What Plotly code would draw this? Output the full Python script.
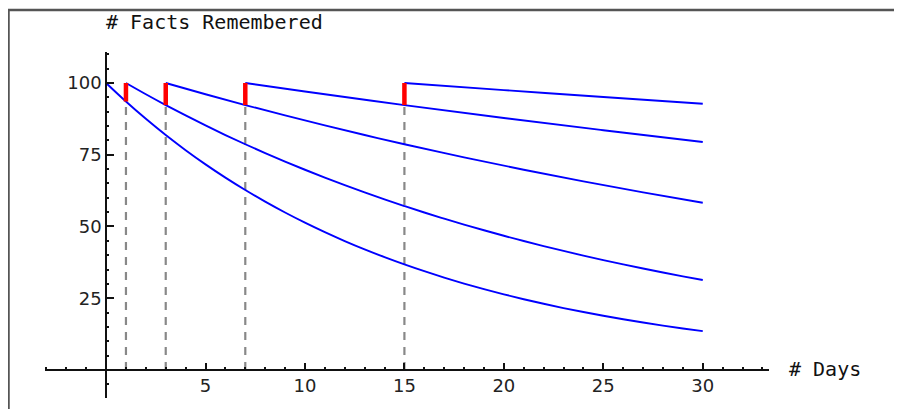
import plotly.graph_objects as go

# ---- data ----
review_days = [1, 3, 7, 15]

curve1_days = list(range(0, 31))
curve1_vals = [100, 93.55, 87.52, 81.87, 76.59, 71.65, 67.03, 62.71, 58.66, 54.88,
               51.34, 48.03, 44.93, 42.03, 39.32, 36.79, 34.42, 32.19, 30.12, 28.18,
               26.36, 24.66, 23.07, 21.58, 20.19, 18.89, 17.67, 16.53, 15.46, 14.47, 13.53]

curve2_days = list(range(1, 31))
curve2_vals = [100, 96.08, 92.31, 88.69, 85.21, 81.87, 78.66, 75.58, 72.61, 69.77,
               67.03, 64.40, 61.88, 59.45, 57.12, 54.88, 52.73, 50.66, 48.68, 46.77,
               44.93, 43.17, 41.48, 39.85, 38.29, 36.79, 35.35, 33.96, 32.63, 31.35]

curve3_days = [3, 5, 7, 9, 11, 13, 15, 18, 21, 24, 27, 30]
curve3_vals = [100, 96.08, 92.31, 88.69, 85.21, 81.87, 78.66, 74.08, 69.77, 65.70, 61.88, 58.27]

curve4_days = [7, 10, 15, 20, 25, 30]
curve4_vals = [100, 97.04, 92.31, 87.81, 83.53, 79.45]

curve5_days = [15, 20, 25, 30]
curve5_vals = [100, 97.53, 95.12, 92.77]

x_tick_vals = [5, 10, 15, 20, 25, 30]
x_tick_text = ["5", "10", "15", "20", "25", "30"]
y_tick_vals = [25, 50, 75, 100]
y_tick_text = ["25", "50", "75", "100"]

x_title = "# Days"
y_title = "# Facts Remembered"

curves = [(curve1_days, curve1_vals), (curve2_days, curve2_vals),
          (curve3_days, curve3_vals), (curve4_days, curve4_vals),
          (curve5_days, curve5_vals)]

# value each curve has reached at the moment of the next review
lows = []
for i, d in enumerate(review_days):
    days, vals = curves[i]
    lows.append(vals[days.index(d)])

XMIN, XMAX = -3.07, 33.33
YMIN, YMAX = -9.76, 110.8

fig = go.Figure()

# dashed guides
dx, dy = [], []
for d, lo in zip(review_days, lows):
    dx += [d, d, None]
    dy += [0, lo, None]
fig.add_trace(go.Scatter(x=dx, y=dy, mode="lines",
                         line=dict(color="#888888", width=2.2, dash="8px,7px"),
                         hoverinfo="skip", showlegend=False))

for days, vals in curves:
    fig.add_trace(go.Scatter(x=days, y=vals, mode="lines",
                             line=dict(color="#0000ff", width=1.9, shape="spline"),
                             showlegend=False))

rx, ry = [], []
for d, lo in zip(review_days, lows):
    rx += [d, d, None]
    ry += [lo, 100, None]
fig.add_trace(go.Scatter(x=rx, y=ry, mode="lines",
                         line=dict(color="#ff0000", width=4.5),
                         showlegend=False))

pos_x_axis = (0 - YMIN) / (YMAX - YMIN)
pos_y_axis = (0 - XMIN) / (XMAX - XMIN)

axis_font = dict(family="DejaVu Sans", size=18, color="#222222")

# page body has an 8px default margin, so the figure is 8px smaller
W, H = 894, 401
ML, MT, MR = 37, 44, 133
PH = 346
MB = H - MT - PH
PW = W - ML - MR


def px_x(p):  # page pixel -> paper x
    return (p - 8 - ML) / PW


def px_y(p):  # page pixel -> paper y
    return (H - MB - (p - 8)) / PH


fig.update_layout(
    width=W, height=H,
    margin=dict(l=ML, r=MR, t=MT, b=MB, autoexpand=False),
    paper_bgcolor="white", plot_bgcolor="white",
    showlegend=False,
    xaxis=dict(range=[XMIN, XMAX], anchor="free", position=pos_x_axis,
               showgrid=False, zeroline=False, showline=True,
               linecolor="#111111", linewidth=1.5,
               tickmode="array", tickvals=x_tick_vals, ticktext=x_tick_text,
               ticks="inside", ticklen=6, tickwidth=1.5, tickcolor="#111111",
               tickfont=axis_font,
               minor=dict(tickmode="linear", tick0=0, dtick=1, ticks="inside",
                          ticklen=2, tickwidth=1.5, tickcolor="#111111")),
    yaxis=dict(range=[YMIN, YMAX], anchor="free", position=pos_y_axis,
               showgrid=False, zeroline=False, showline=True,
               linecolor="#111111", linewidth=1.5,
               tickmode="array", tickvals=y_tick_vals, ticktext=y_tick_text,
               ticks="inside", ticklen=7, tickwidth=1.5, tickcolor="#111111",
               tickfont=axis_font,
               minor=dict(tickmode="linear", tick0=0, dtick=5, ticks="inside",
                          ticklen=2, tickwidth=1.5, tickcolor="#111111")),
    annotations=[
        dict(text=y_title, xref="paper", yref="paper", x=px_x(104), y=px_y(22),
             xanchor="left", yanchor="middle", showarrow=False,
             font=dict(family="DejaVu Sans Mono", size=20, color="#111111")),
        dict(text=x_title, xref="paper", yref="paper", x=px_x(787), y=px_y(369),
             xanchor="left", yanchor="middle", showarrow=False,
             font=dict(family="DejaVu Sans Mono", size=20, color="#111111")),
    ],
    shapes=[
        dict(type="line", xref="paper", yref="paper", x0=px_x(8), x1=px_x(910),
             y0=px_y(10), y1=px_y(10), line=dict(color="#555555", width=2.5)),
        dict(type="line", xref="paper", yref="paper", x0=px_x(8.5), x1=px_x(8.5),
             y0=px_y(10), y1=px_y(415), line=dict(color="#555555", width=2.5)),
    ],
)

fig.write_html("out.html")
